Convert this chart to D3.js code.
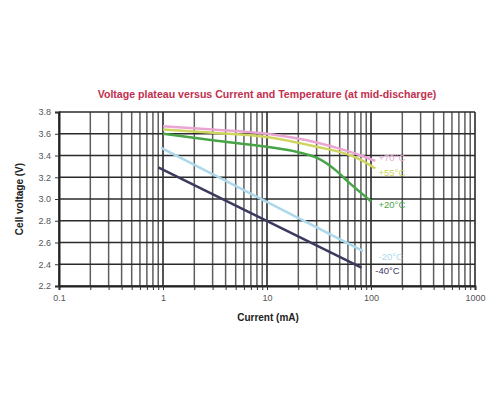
<!DOCTYPE html>
<html>
<head>
<meta charset="utf-8">
<script src="https://cdn.jsdelivr.net/npm/d3@7/dist/d3.min.js"></script>
<style>
  body { margin: 0; background: #fff; }
  text { font-family: "Liberation Sans", Arial, sans-serif; }
</style>
</head>
<body>
<svg id="chart" width="500" height="400"></svg>
<script>
// data (current in mA, voltage in V)
var curr70 = [1, 3, 10, 30, 60, 80, 110];
var volt70 = [3.67, 3.64, 3.60, 3.52, 3.44, 3.40, 3.35];
var curr55 = [1, 3, 10, 30, 60, 80, 110];
var volt55 = [3.64, 3.61, 3.57, 3.48, 3.41, 3.36, 3.28];
var curr20 = [1, 3, 10, 20, 30, 45, 60, 100];
var volt20 = [3.60, 3.54, 3.48, 3.43, 3.38, 3.27, 3.16, 2.98];
var currM20 = [0.96, 84];
var voltM20 = [3.47, 2.52];
var currM40 = [0.9, 81];
var voltM40 = [3.29, 2.37];

var yTicks = [2.2, 2.4, 2.6, 2.8, 3.0, 3.2, 3.4, 3.6, 3.8];
var xTicks = [0.1, 1, 10, 100, 1000];
var xTickLabels = ["0.1", "1", "10", "100", "1000"];

var series = [
  { label: "+70°C", x: curr70, y: volt70, color: "#eaa6d2", labelY: 3.38, labelX: 118 },
  { label: "+55°C", x: curr55, y: volt55, color: "#cfd55e", labelY: 3.24, labelX: 118 },
  { label: "+20°C", x: curr20, y: volt20, color: "#47a447", labelY: 2.95, labelX: 118 },
  { label: "-20°C", x: currM20, y: voltM20, color: "#acd8ec", labelY: 2.47, labelX: 118 },
  { label: "-40°C", x: currM40, y: voltM40, color: "#3b3a5e", labelY: 2.34, labelX: 110 }
];

var margin = { left: 59, top: 112, right: 25, bottom: 114 };
var W = 500, H = 400;
var svg = d3.select("#chart");

var x = d3.scaleLog().domain([0.1, 1000]).range([margin.left, W - margin.right]);
var y = d3.scaleLinear().domain([2.2, 3.8]).range([H - margin.bottom, margin.top]);

// minor log ticks (2..9 in each decade) + decades
var minor = [];
for (var d = 0.1; d < 1000; d *= 10) {
  for (var k = 2; k <= 9; k++) minor.push(+(d * k).toPrecision(3));
}

var grid = svg.append("g");
grid.selectAll("line.vmin").data(minor).enter().append("line")
  .attr("x1", function(v) { return x(v); }).attr("x2", function(v) { return x(v); })
  .attr("y1", y(2.2)).attr("y2", y(3.8))
  .attr("stroke", "#5e5e5e").attr("stroke-width", 1.5);
grid.selectAll("line.vmaj").data(xTicks).enter().append("line")
  .attr("x1", function(v) { return x(v); }).attr("x2", function(v) { return x(v); })
  .attr("y1", y(2.2)).attr("y2", y(3.8))
  .attr("stroke", "#2a2a2a").attr("stroke-width", 1.6);
grid.selectAll("line.h").data(yTicks).enter().append("line")
  .attr("x1", x(0.1)).attr("x2", x(1000))
  .attr("y1", function(v) { return y(v); }).attr("y2", function(v) { return y(v); })
  .attr("stroke", "#2a2a2a").attr("stroke-width", 1.6);

// axes
var yAxis = d3.axisLeft(y).tickValues(yTicks).tickFormat(d3.format(".1f")).tickSize(4).tickPadding(4);
var gy = svg.append("g").attr("transform", "translate(" + margin.left + ",0)").call(yAxis);
gy.select(".domain").attr("stroke", "#222").attr("stroke-width", 2);
gy.selectAll(".tick line").attr("stroke", "#333");
gy.selectAll("text").attr("fill", "#555").style("font-size", "9px");

var xAxis = d3.axisBottom(x).tickValues(minor.concat(xTicks)).tickFormat(function(v) {
  var i = xTicks.indexOf(v);
  return i >= 0 ? xTickLabels[i] : "";
}).tickSize(4).tickPadding(5);
var gx = svg.append("g").attr("transform", "translate(0," + (H - margin.bottom) + ")").call(xAxis);
gx.select(".domain").attr("stroke", "#222").attr("stroke-width", 2);
gx.selectAll(".tick line").attr("stroke", "#333");
gx.selectAll("text").attr("fill", "#555").style("font-size", "9px");

// curves
var line = d3.line().curve(d3.curveMonotoneX)
  .x(function(p) { return x(p[0]); })
  .y(function(p) { return y(p[1]); });

series.forEach(function(s) {
  var pts = s.x.map(function(c, i) { return [c, s.y[i]]; });
  svg.append("path").datum(pts)
    .attr("d", line)
    .attr("fill", "none")
    .attr("stroke", s.color)
    .attr("stroke-width", 2.5);
  svg.append("text")
    .attr("x", x(s.labelX))
    .attr("y", y(s.labelY))
    .attr("dy", "0.35em")
    .attr("fill", s.color)
    .style("font-size", "9.5px")
    .text(s.label);
});

// titles
svg.append("text")
  .attr("x", 267).attr("y", 98)
  .attr("text-anchor", "middle")
  .attr("fill", "#c2304e")
  .style("font-size", "10.6px").style("font-weight", "bold")
  .text("Voltage plateau versus Current and Temperature (at mid-discharge)");

svg.append("text")
  .attr("x", 268).attr("y", 321)
  .attr("text-anchor", "middle")
  .attr("fill", "#222")
  .style("font-size", "10px").style("font-weight", "bold")
  .text("Current (mA)");

svg.append("text")
  .attr("transform", "translate(23,199) rotate(-90)")
  .attr("text-anchor", "middle")
  .attr("fill", "#222")
  .style("font-size", "10px").style("font-weight", "bold")
  .text("Cell voltage (V)");
</script>
</body>
</html>
